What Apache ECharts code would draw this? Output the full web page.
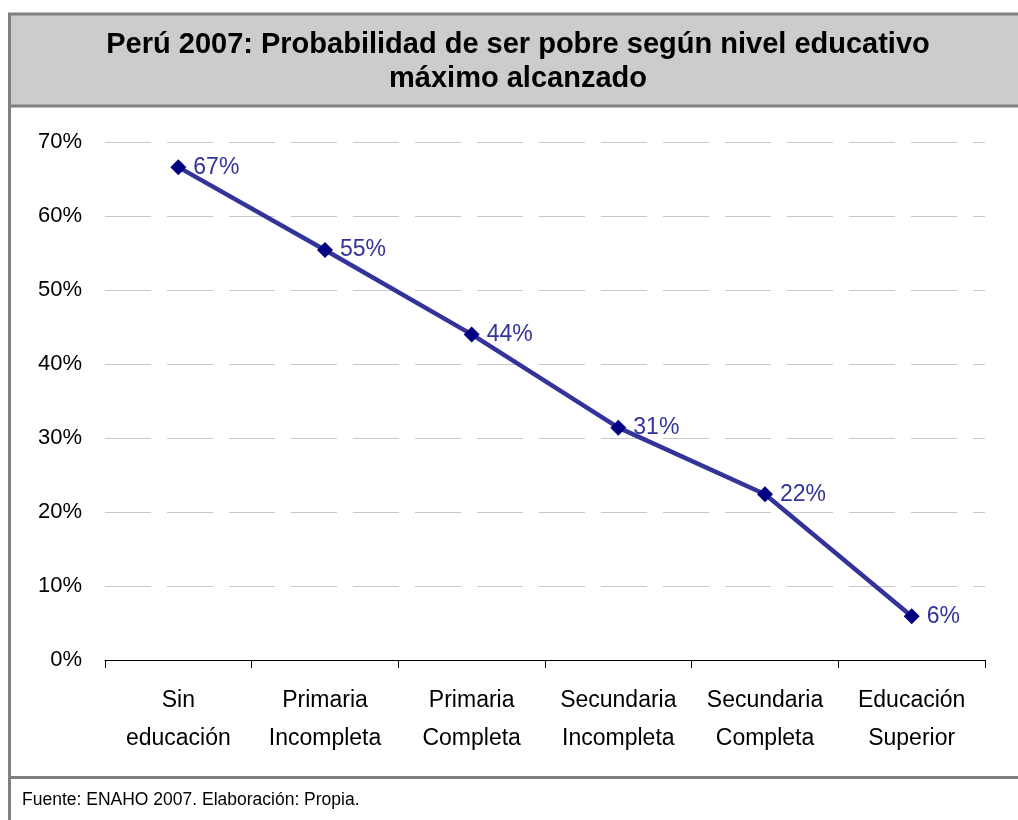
<!DOCTYPE html>
<html>
<head>
<meta charset="utf-8">
<script src="https://cdn.jsdelivr.net/npm/echarts@6/dist/echarts.min.js"></script>
<style>html,body{margin:0;padding:0;background:#fff;}#c{width:1018px;height:820px;}</style>
</head>
<body>
<div id="c"></div>
<script>
const categories = ['Sin\neducación', 'Primaria\nIncompleta', 'Primaria\nCompleta', 'Secundaria\nIncompleta', 'Secundaria\nCompleta', 'Educación\nSuperior'];
const probabilidad = [0.666, 0.554, 0.440, 0.314, 0.224, 0.059];
const yTicks = [0, 0.1, 0.2, 0.3, 0.4, 0.5, 0.6, 0.7];
const titleText = 'Perú 2007: Probabilidad de ser pobre según nivel educativo\nmáximo alcanzado';
const sourceText = 'Fuente: ENAHO 2007. Elaboración: Propia.';

const FONT = '"Liberation Sans", Arial, sans-serif';
const chart = echarts.init(document.getElementById('c'), null, {renderer: 'canvas'});
chart.setOption({
  backgroundColor: '#ffffff',
  animation: false,
  graphic: [
    {type: 'rect', z: -10, shape: {x: 9.5, y: 14, width: 1020, height: 92}, style: {fill: '#cccccc', stroke: '#808080', lineWidth: 3}},
    {type: 'line', z: -10, shape: {x1: 9.5, y1: 13, x2: 9.5, y2: 830}, style: {stroke: '#808080', lineWidth: 3}},
    {type: 'line', z: -10, shape: {x1: 9, y1: 777.5, x2: 1030, y2: 777.5}, style: {stroke: '#808080', lineWidth: 3}},
    {type: 'text', x: 518, y: 62, style: {text: titleText, font: 'bold 29px ' + FONT, fill: '#000000',
      align: 'center', verticalAlign: 'middle', lineHeight: 34}},
    {type: 'text', x: 22, y: 800, style: {text: sourceText, font: '17.5px ' + FONT, fill: '#000000', verticalAlign: 'middle'}}
  ],
  grid: {left: 105, right: 33, top: 142, bottom: 160, containLabel: false},
  xAxis: {
    type: 'category',
    data: categories,
    boundaryGap: true,
    axisLine: {lineStyle: {color: '#000000', width: 1}},
    axisTick: {show: true, inside: false, length: 8, lineStyle: {color: '#000000'}},
    axisLabel: {fontFamily: FONT, fontSize: 23, color: '#000000', lineHeight: 38, margin: 22, interval: 0},
    splitLine: {show: false}
  },
  yAxis: {
    type: 'value',
    min: 0, max: 0.7, interval: 0.1,
    axisLine: {show: false},
    axisTick: {show: false},
    axisLabel: {fontFamily: FONT, fontSize: 22, color: '#000000', margin: 23, padding: [5, 0, 0, 0],
      formatter: v => Math.round(v * 100) + '%'},
    splitLine: {show: true, lineStyle: {color: '#c8c8c8', width: 1, type: [46, 16]}}
  },
  series: [{
    type: 'line',
    data: probabilidad,
    symbol: 'diamond',
    symbolSize: 16,
    itemStyle: {color: '#000080'},
    lineStyle: {color: '#333399', width: 4.5},
    label: {show: true, position: 'right', distance: 7, fontFamily: FONT, fontSize: 23, color: '#333399',
      formatter: p => Math.round(p.value * 100) + '%'}
  }]
});
</script>
</body>
</html>
